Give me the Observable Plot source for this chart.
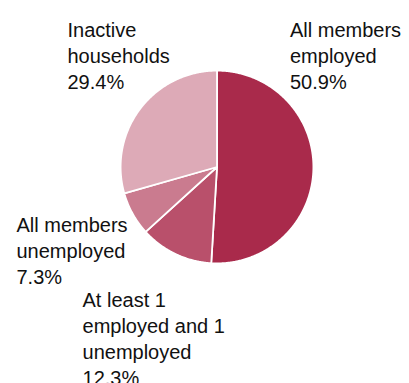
<!DOCTYPE html>
<html><head><meta charset="utf-8">
<script src="https://cdn.jsdelivr.net/npm/d3@7"></script>
<script src="https://cdn.jsdelivr.net/npm/@observablehq/plot@0.6"></script>
<style>html,body{margin:0;padding:0;background:#fff;overflow:hidden;}</style>
</head><body><div id="chart"></div>
<script>
// ---- data ----
const categories = ["All members employed", "At least 1 employed and 1 unemployed", "All members unemployed", "Inactive households"];
const labelLines = ["All members\nemployed", "At least 1\nemployed and 1\nunemployed", "All members\nunemployed", "Inactive\nhouseholds"];
const values = [50.9, 12.3, 7.3, 29.4];
const colors = ["#a92a4b", "#b9506b", "#ca7b8f", "#ddaab7"];

// ---- layout (pixels) ----
const W = 409, H = 383, cx = 216.5, cy = 166.5, R = 96.4;
// label anchors in pie-radius units (x right, y up), top-left of text block
const labelAnchors = [
  [ 0.757,  1.536],
  [-1.395, -1.265],
  [-2.080, -0.488],
  [-1.551,  1.538]
];

const total = d3.sum(values);
let acc = 0;
const slicePts = [];
categories.forEach((c, i) => {
  const a0 = acc / total * 2 * Math.PI; acc += values[i];
  const a1 = acc / total * 2 * Math.PI;
  const n = Math.max(2, Math.ceil((a1 - a0) / (Math.PI / 360)));
  slicePts.push({cat: c, x: 0, y: 0});
  for (let k = 0; k <= n; k++) {
    const a = a0 + (a1 - a0) * k / n;
    slicePts.push({cat: c, x: Math.sin(a), y: Math.cos(a)});
  }
  slicePts.push({cat: c, x: 0, y: 0});
});

const labels = categories.map((c, i) => ({
  cat: c,
  text: labelLines[i] + "\n" + values[i].toFixed(1) + "%",
  x: labelAnchors[i][0],
  y: labelAnchors[i][1]
}));

const chart = Plot.plot({
  width: W, height: H, margin: 0,
  style: {fontFamily: "'Liberation Sans', Arial, sans-serif", background: "#fff"},
  x: {domain: [-cx / R, (W - cx) / R], axis: null},
  y: {domain: [-(H - cy) / R, cy / R], axis: null},
  color: {domain: categories, range: colors},
  marks: [
    Plot.line(slicePts, {x: "x", y: "y", z: "cat", fill: "cat", stroke: "white", strokeWidth: 1.8, strokeLinejoin: "round", curve: "linear"}),
    Plot.text(labels, {x: "x", y: "y", text: "text", textAnchor: "start", lineAnchor: "top", fontSize: 20, lineHeight: 1.3, fill: "#111"})
  ]
});
document.getElementById("chart").appendChild(chart);
</script>
</body></html>
